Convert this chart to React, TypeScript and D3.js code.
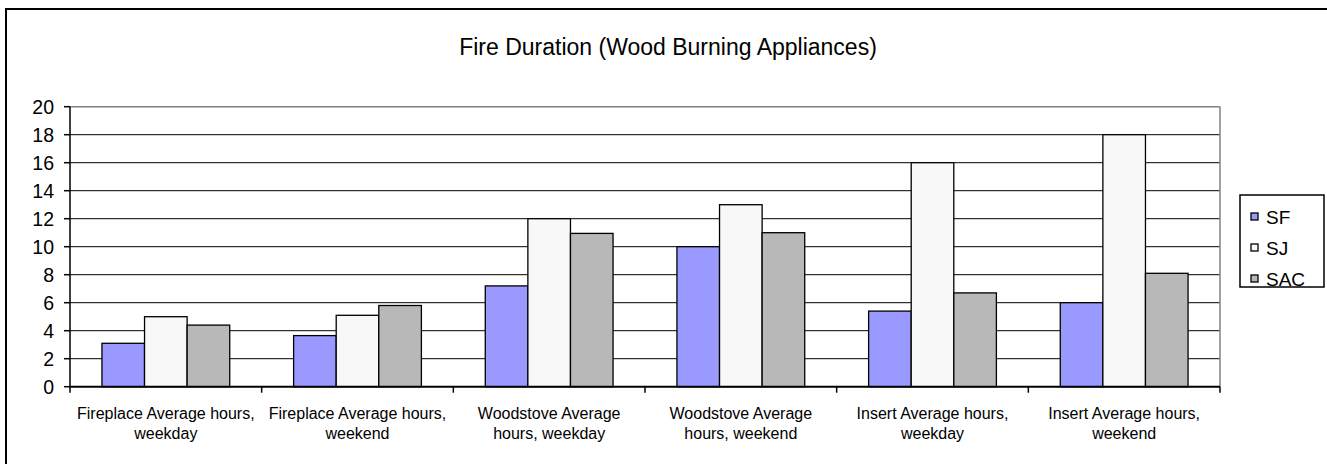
import React from "react";
import * as d3 from "d3";

const categories = [
  ["Fireplace Average hours,", "weekday"],
  ["Fireplace Average hours,", "weekend"],
  ["Woodstove Average", "hours, weekday"],
  ["Woodstove Average", "hours, weekend"],
  ["Insert Average hours,", "weekday"],
  ["Insert Average hours,", "weekend"],
];
const seriesNames = ["SF", "SJ", "SAC"];
const sfValues = [3.1, 3.65, 7.2, 10, 5.4, 6];
const sjValues = [5, 5.1, 12, 13, 16, 18];
const sacValues = [4.4, 5.8, 10.95, 11, 6.7, 8.1];
const yTicks = [0, 2, 4, 6, 8, 10, 12, 14, 16, 18, 20];
const colors = ["#9999FF", "#F8F8F8", "#B8B8B8"];

export default function App() {
  const W = 1327, H = 464;
  const left = 70, right = 1220, top = 106.7, bottom = 386.7;
  const series = [sfValues, sjValues, sacValues];
  const x = d3.scaleBand<number>().domain(d3.range(categories.length)).range([left, right]).paddingInner(0).paddingOuter(0);
  const bw = x.bandwidth();
  const inner = d3.scaleBand<number>().domain([0, 1, 2]).range([0, bw]).paddingInner(0).paddingOuter(0.75);
  const y = d3.scaleLinear().domain([0, 20]).range([bottom, top]);
  const font = "Arial, 'Liberation Sans', sans-serif";

  return (
    <svg width={W} height={H} style={{ position: "absolute", left: 0, top: 0, background: "#fff" }} fontFamily={font}>
      <rect x={6} y={9} width={1340} height={480} fill="white" stroke="black" strokeWidth={2} />
      <text x={668} y={55} textAnchor="middle" fontSize={23}>Fire Duration (Wood Burning Appliances)</text>
      {/* gridlines */}
      {yTicks.filter((t) => t > 0 && t < 20).map((t) => (
        <line key={t} x1={left} x2={right} y1={y(t)} y2={y(t)} stroke="black" strokeWidth={1} />
      ))}
      <line x1={left} x2={right} y1={y(20)} y2={y(20)} stroke="#808080" strokeWidth={1.5} />
      <line x1={right} x2={right} y1={y(20)} y2={bottom} stroke="#808080" strokeWidth={1.5} />
      {/* bars */}
      {series.map((vals, si) =>
        vals.map((v, ci) => (
          <rect key={`${si}-${ci}`} x={(x(ci) as number) + (inner(si) as number)} y={y(v)} width={inner.bandwidth()} height={bottom - y(v)}
            fill={colors[si]} stroke="black" strokeWidth={1.3} />
        ))
      )}
      {/* y axis */}
      <line x1={left} x2={left} y1={top} y2={bottom} stroke="black" strokeWidth={1.5} />
      {yTicks.map((t) => (
        <g key={t}>
          <line x1={left - 6} x2={left} y1={y(t)} y2={y(t)} stroke="black" strokeWidth={1.5} />
          <text x={54} y={y(t)} dy="0.36em" textAnchor="end" fontSize={19.5}>{t}</text>
        </g>
      ))}
      {/* x axis */}
      <line x1={left} x2={right} y1={bottom} y2={bottom} stroke="black" strokeWidth={2} />
      {d3.range(categories.length + 1).map((i) => (
        <line key={i} x1={left + i * bw} x2={left + i * bw} y1={bottom} y2={bottom + 6} stroke="black" strokeWidth={1.5} />
      ))}
      {categories.map((lines, i) => (
        <text key={i} x={(x(i) as number) + bw / 2} y={419} textAnchor="middle" fontSize={16}>
          {lines.map((l, j) => (
            <tspan key={j} x={(x(i) as number) + bw / 2} dy={j === 0 ? 0 : 19.5}>{l}</tspan>
          ))}
        </text>
      ))}
      {/* legend */}
      <rect x={1240} y={195} width={84} height={92} fill="white" stroke="black" strokeWidth={1.5} />
      {seriesNames.map((n, i) => (
        <g key={n}>
          <rect x={1251} y={213 + i * 31} width={7} height={7} fill={colors[i]} stroke="black" strokeWidth={1.3} />
          <text x={1266} y={217 + i * 31} dy="0.36em" fontSize={19}>{n}</text>
        </g>
      ))}
    </svg>
  );
}
